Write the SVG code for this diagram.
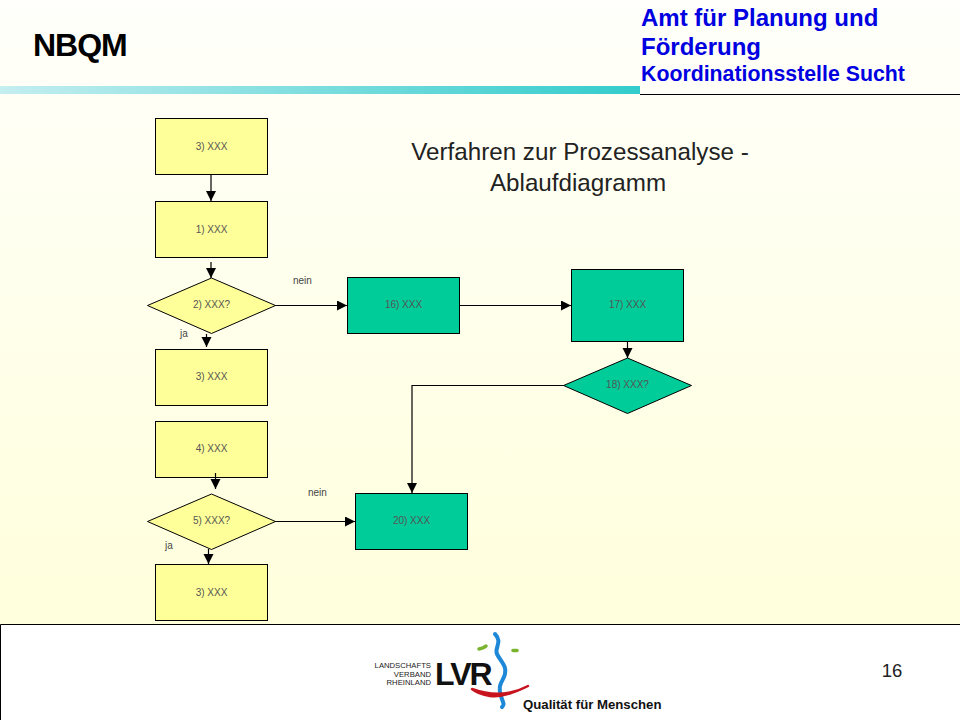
<svg xmlns="http://www.w3.org/2000/svg" width="960" height="720" viewBox="0 0 960 720">
<style>
.box{fill:#ffff99;stroke:#000;stroke-width:1}
.grn{fill:#00cc99;stroke:#000;stroke-width:1}
.lbl{font:10px "Liberation Sans",Arial,sans-serif;fill:#555;text-anchor:middle}
.edge{font:10px "Liberation Sans",Arial,sans-serif;fill:#444}
.con{fill:none;stroke:#000;stroke-width:1.2}
.hd{font-family:"Liberation Sans",Arial,sans-serif;font-weight:bold}
.blue{fill:#0000e0}
</style>
<defs>
<linearGradient id="bg" x1="0" y1="0" x2="0" y2="1"><stop offset="0" stop-color="#fffffb"/><stop offset="1" stop-color="#ffffdc"/></linearGradient>
<linearGradient id="bar" x1="0" y1="0" x2="1" y2="0"><stop offset="0" stop-color="#c4eef0"/><stop offset="1" stop-color="#33cccc"/></linearGradient>
<marker id="a" markerUnits="userSpaceOnUse" markerWidth="12" markerHeight="12" refX="10" refY="5" orient="auto"><path d="M0 0L10 5L0 10Z" fill="#000"/></marker>
</defs>
<rect width="960" height="720" fill="#fff"/>
<rect width="960" height="625" fill="url(#bg)"/>
<rect x="0" y="86" width="640" height="8" fill="url(#bar)"/>
<line x1="640" y1="94.500" x2="960" y2="94.500" stroke="#000"/>
<path d="M0.500 720V624.500H960" fill="none" stroke="#000"/>
<g id="header">
<text x="33" y="56" class="hd" font-size="32" letter-spacing="-1" fill="#000">NBQM</text>
<text x="641" y="26" class="hd blue" font-size="24">Amt für Planung und</text>
<text x="641" y="55" class="hd blue" font-size="24">Förderung</text>
<text x="641" y="81" class="hd blue" font-size="21.300">Koordinationsstelle Sucht</text>
</g>
<g id="title" font-family="'Liberation Sans',Arial,sans-serif" font-size="24.200" fill="#222" text-anchor="middle">
<text x="580" y="160">Verfahren zur Prozessanalyse -</text>
<text x="578" y="191">Ablaufdiagramm</text>
</g>
<g id="n1"><rect class="box" x="155.500" y="118.500" width="112" height="56"/><text class="lbl" x="211.500" y="150">3) XXX</text></g>
<g id="n2"><rect class="box" x="155.500" y="201.500" width="112" height="56"/><text class="lbl" x="211.500" y="233">1) XXX</text></g>
<g id="n3"><path class="box" d="M211.500 278L275.500 305.500L211.500 333.500L147.500 305.500Z"/><text class="lbl" x="211.500" y="308">2) XXX?</text></g>
<g id="n4"><rect class="box" x="155.500" y="349.500" width="112" height="56"/><text class="lbl" x="211.500" y="380">3) XXX</text></g>
<g id="n5"><rect class="box" x="155.500" y="421.500" width="112" height="56"/><text class="lbl" x="211.500" y="452">4) XXX</text></g>
<g id="n6"><path class="box" d="M211.500 494L275.500 521.500L211.500 549.500L147.500 521.500Z"/><text class="lbl" x="211.500" y="524">5) XXX?</text></g>
<g id="n7"><rect class="box" x="155.500" y="564.500" width="112" height="56"/><text class="lbl" x="211.500" y="596">3) XXX</text></g>
<g id="n8"><rect class="grn" x="347.500" y="277.500" width="112" height="56"/><text class="lbl" x="403.500" y="308">16) XXX</text></g>
<g id="n9"><rect class="grn" x="571.500" y="269.500" width="112" height="72"/><text class="lbl" x="627.500" y="308">17) XXX</text></g>
<g id="n10"><path class="grn" d="M627.500 358L691.500 385.500L627.500 413.500L563.500 385.500Z"/><text class="lbl" x="627.500" y="388">18) XXX?</text></g>
<g id="n11"><rect class="grn" x="355.500" y="493.500" width="112" height="56"/><text class="lbl" x="411.500" y="524">20) XXX</text></g>
<g id="connectors">
<path class="con" marker-end="url(#a)" d="M211 175V201"/>
<path class="con" marker-end="url(#a)" d="M211 262V278"/>
<path class="con" marker-end="url(#a)" d="M206.500 334V347"/>
<path class="con" marker-end="url(#a)" d="M215.500 473V489"/>
<path class="con" marker-end="url(#a)" d="M208.500 549V564"/>
<path class="con" marker-end="url(#a)" d="M275 305.500H347"/>
<path class="con" marker-end="url(#a)" d="M275 521.500H355"/>
<path class="con" marker-end="url(#a)" d="M459 305.500H571"/>
<path class="con" marker-end="url(#a)" d="M627.500 342V358"/>
<path class="con" marker-end="url(#a)" d="M564 385.500H412V493"/>
</g>
<text class="edge" x="293" y="284">nein</text>
<text class="edge" x="180" y="337">ja</text>
<text class="edge" x="308" y="496">nein</text>
<text class="edge" x="165" y="549">ja</text>
<text x="892" y="677" font-family="'Liberation Sans',Arial,sans-serif" font-size="18.500" fill="#222" text-anchor="middle">16</text>
<g id="logo">
<g font-family="'Liberation Sans',Arial,sans-serif" font-size="7.700" fill="#222" text-anchor="end">
<text x="431" y="668">LANDSCHAFTS</text>
<text x="431" y="676.500">VERBAND</text>
<text x="431" y="685">RHEINLAND</text>
</g>
<text x="435" y="685" font-family="'Liberation Sans',Arial,sans-serif" font-weight="bold" font-size="32" letter-spacing="-2" fill="#111">LVR</text>
<path d="M495 634C503 642 494 648 497 654C501 662 507 666 505 674C503 682 497 684 501 696C503 703 505 704 502 707" fill="none" stroke="#1e88d8" stroke-width="4" stroke-linecap="round"/>
<path d="M479 649Q484 648 486 646" fill="none" stroke="#7ab32e" stroke-width="3.500" stroke-linecap="round"/>
<path d="M513 650.500H517" fill="none" stroke="#7ab32e" stroke-width="3.500" stroke-linecap="round"/>
<path d="M472 689Q502 700 528 686Q504 698 490 696Q478 694 472 689Z" fill="#c8141e" stroke="#c8141e" stroke-width="2.500" stroke-linejoin="round"/>
<text x="523" y="709" font-family="'Liberation Sans',Arial,sans-serif" font-weight="bold" font-size="13.200" fill="#111">Qualität für Menschen</text>
</g>
</svg>
